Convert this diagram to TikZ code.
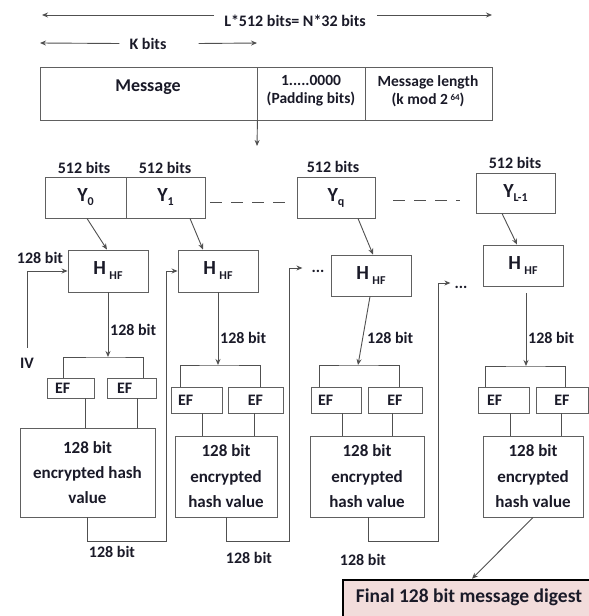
\documentclass[tikz,border=0pt]{standalone}
\usepackage{fontspec}
\setmainfont{Carlito}
\usetikzlibrary{arrows.meta,calc}
\definecolor{ln}{HTML}{505050}
\definecolor{bx}{HTML}{606060}
\definecolor{tx}{HTML}{1A1A28}
\definecolor{pinkfill}{HTML}{F2DCDB}
\tikzset{
  txt/.style={font=\bfseries\fontsize{16}{19}\selectfont, text=tx, inner sep=1pt},
  box/.style={draw=bx, line width=0.9pt, inner sep=0pt},
  efbox/.style={box, font=\bfseries\fontsize{16}{19}\selectfont, text=tx},
  conn/.style={draw=ln, line width=0.9pt},
  arr/.style={conn, -{Stealth[length=6pt,width=5pt]}},
  hashtxt/.style={box, font=\bfseries\fontsize{17}{25}\selectfont, text=tx, align=center},
  ytxt/.style={box, font=\bfseries\fontsize{20}{24}\selectfont, text=tx},
}
\newcommand{\subtxt}[2]{\raisebox{#1}{\fontsize{12}{12}\selectfont #2}}
\begin{document}
\begin{tikzpicture}[x=1pt,y=-1pt]
\clip (0,0) rectangle (589,616);
\fill[white] (0,0) rectangle (589,616);

% top dimension arrows
\node[txt] (Lt) at (295,21) {L*512 bits= N*32 bits};
\coordinate (tl) at (42,15);
\coordinate (tr) at (492,15);
\draw[arr] ([xshift=-9pt,yshift=6pt]Lt.west) -- (tl);
\draw[arr] ([xshift=10pt,yshift=6pt]Lt.east) -- (tr);
\node[txt] (Kt) at (148,43.5) {K bits};
\coordinate (kl) at (40,43);
\coordinate (kr) at (257,43);
\draw[arr] ([xshift=-9pt]Kt.west) -- (kl);
\draw[arr] ([xshift=31pt]Kt.east) -- (kr);

% message block
\node[box, minimum width=217pt, minimum height=53pt] (msg) at (148.5,93.5) {};
\node[box, minimum width=108pt, minimum height=53pt] (pad) at (311,93.5) {};
\node[box, minimum width=127pt, minimum height=53pt] (len) at (428.5,93.5) {};
\node[txt, font=\bfseries\fontsize{18}{21}\selectfont] (msgt) at (148,87) {Message};
\node[txt, font=\bfseries\fontsize{15.5}{18}\selectfont, align=center] (padt) at (311,91) {1.....0000\\(Padding bits)};
\node[txt, font=\bfseries\fontsize{15.5}{18}\selectfont, align=center] (lent) at (428,91) {Message length\\(k mod 2\,\raisebox{4pt}{\fontsize{9}{9}\selectfont 64})};
\coordinate (dn) at (257,146);
\draw[arr] (msg.south east) -- (dn);

% Y blocks
\node[ytxt, minimum width=81pt, minimum height=41pt] (y0) at (85.5,197.5) {Y\subtxt{-4pt}{0}};
\node[ytxt, minimum width=79pt, minimum height=41pt] (y1) at (165.5,197.5) {Y\subtxt{-4pt}{1}};
\node[ytxt, minimum width=78pt, minimum height=41pt] (yq) at (336,197.5) {Y\subtxt{-4pt}{q}};
\node[ytxt, minimum width=79pt, minimum height=40pt] (yl) at (515.5,193) {Y\subtxt{-4pt}{L-1}};
\node[txt] (b0) at (84,168) {512 bits};
\node[txt] (b1) at (165,168) {512 bits};
\node[txt] (bq) at (333,167) {512 bits};
\node[txt] (bl) at (515,163) {512 bits};
\draw[conn, dashed, dash pattern=on 12pt off 9pt] ([xshift=5pt,yshift=-4.5pt]y1.east) -- ([xshift=-10pt,yshift=-4.5pt]yq.west);
\draw[conn, dashed, dash pattern=on 12pt off 9pt] ([xshift=18pt,yshift=-2.5pt]yq.east) -- ([xshift=-16pt,yshift=-7pt]yl.west);

% hash function boxes
\node[ytxt, minimum width=80pt, minimum height=42pt] (h1) at (108,271) {H\,\subtxt{-5pt}{HF}};
\node[ytxt, minimum width=80pt, minimum height=42pt] (h2) at (218,271) {H\,\subtxt{-5pt}{HF}};
\node[ytxt, minimum width=80pt, minimum height=41pt] (h3) at (371,275.5) {H\,\subtxt{-5pt}{HF}};
\node[ytxt, minimum width=80pt, minimum height=41pt] (h4) at (523,265.5) {H\,\subtxt{-5pt}{HF}};
\draw[arr] ([xshift=1.5pt]y0.south) -- ([xshift=-1pt]h1.north);
\draw[arr] ([xshift=24.5pt]y1.south) -- ([xshift=-15pt]h2.north);
\draw[arr] ([xshift=22pt]yq.south) -- ([xshift=2pt]h3.north);
\draw[arr] ([xshift=-13.5pt]yl.south) -- ([xshift=-6pt]h4.north);

% IV input
\node[txt] (iv) at (27,363) {IV};
\node[txt] (ivb) at (40,258) {128 bit};
\draw[arr] ([yshift=9pt]iv.north) |- (h1.west);

% down arrows and brackets
\coordinate (br1) at (108,357);
\coordinate (br2) at (218,365);
\coordinate (br3) at (358,365);
\coordinate (br4) at (526,366);
\draw[arr] (h1.south) -- (br1);
\draw[arr] (h2.south) -- (br2);
\draw[arr] ([xshift=-1pt]h3.south) -- (br3);
\draw[arr] ([xshift=3pt,yshift=-7pt]h4.south) -- (br4);
\node[txt, anchor=west] (l1) at (109,330) {128 bit};
\node[txt, anchor=west] (l2) at (219,338) {128 bit};
\node[txt, anchor=west] (l3) at (366,338) {128 bit};
\node[txt, anchor=west] (l4) at (527,338) {128 bit};

% EF boxes
\node[efbox, minimum height=20pt, inner xsep=8pt, text width=31pt, align=left] (e1a) at (70.5,388) {EF};
\node[efbox, minimum height=20pt, inner xsep=10pt, text width=29pt, align=left] (e1b) at (131.5,388) {EF};
\node[efbox, minimum height=26pt, inner xsep=7pt, text width=37pt, align=left] (e2a) at (196.5,400) {EF};
\node[efbox, minimum height=26pt, minimum width=55pt] (e2b) at (255.5,400) {EF};
\node[efbox, minimum height=26pt, inner xsep=7pt, text width=36pt, align=left] (e3a) at (336,400) {EF};
\node[efbox, minimum height=26pt, minimum width=54pt] (e3b) at (395,400) {EF};
\node[efbox, minimum height=26pt, inner xsep=9pt, text width=33pt, align=left] (e4a) at (503.5,400) {EF};
\node[efbox, minimum height=26pt, minimum width=52pt] (e4b) at (562,400) {EF};
\draw[conn] ([xshift=-7.5pt]e1a.north) |- (br1) -| ([xshift=11.5pt]e1b.north);
\draw[conn] ([xshift=-16.5pt]e2a.north) |- (br2) -| ([xshift=4.5pt]e2b.north);
\draw[conn] ([xshift=-17pt]e3a.north) |- (br3) -| ([xshift=4pt]e3b.north);
\draw[conn] ([xshift=-18.5pt]e4a.north) |- (br4) -| ([xshift=3pt]e4b.north);

% hash value boxes
\node[hashtxt, minimum width=135pt, minimum height=89pt] (c1) at (87.5,472.5) {128 bit\\encrypted hash\\value};
\node[hashtxt, font=\bfseries\fontsize{17}{25.5}\selectfont, minimum width=102pt, minimum height=81pt] (c2) at (226,476.5) {128 bit\\encrypted\\hash value};
\node[hashtxt, font=\bfseries\fontsize{17}{25.5}\selectfont, minimum width=114pt, minimum height=81pt] (c3) at (367,476.5) {128 bit\\encrypted\\hash value};
\node[hashtxt, font=\bfseries\fontsize{17}{25.5}\selectfont, minimum width=100pt, minimum height=81pt] (c4) at (533,476.5) {128 bit\\encrypted\\hash value};
\draw[conn] ([xshift=14.5pt]e1a.south) -- ([xshift=14.5pt]e1a.south |- c1.north);
\draw[conn] ([xshift=5.5pt]e1b.south) -- ([xshift=5.5pt]e1b.south |- c1.north);
\draw[conn] ([xshift=5.5pt]e2a.south) -- ([xshift=5.5pt]e2a.south |- c2.north);
\draw[conn] ([xshift=-1.5pt]e2b.south) -- ([xshift=-1.5pt]e2b.south |- c2.north);
\draw[conn] ([xshift=6pt]e3a.south) -- ([xshift=6pt]e3a.south |- c3.north);
\draw[conn] ([xshift=-3pt]e3b.south) -- ([xshift=-3pt]e3b.south |- c3.north);
\draw[conn] ([xshift=6.5pt]e4a.south) -- ([xshift=6.5pt]e4a.south |- c4.north);
\draw[conn] ([xshift=-1pt]e4b.south) -- ([xshift=-1pt]e4b.south |- c4.north);

% chaining feedback
\node[txt, inner sep=0pt] (d1) at (318,271) {...};
\node[txt, inner sep=0pt] (d2) at (461,287) {...};
\coordinate (f1) at (166,541);
\coordinate (f2) at (289,541);
\coordinate (f3) at (438,541);
\draw[arr] ([xshift=-0.5pt]c1.south) |- (f1) |- (h2.west);
\draw[arr] (c2.south) |- (f2) |- ([xshift=-9pt,yshift=3pt]d1.west);
\draw[arr] ([xshift=1pt]c3.south) |- (f3) |- ([xshift=-4pt,yshift=4pt]d2.west);
\node[txt] (o1) at (112,552) {128 bit};
\node[txt] (o2) at (249,558) {128 bit};
\node[txt] (o3) at (363,560) {128 bit};

% final digest
\node[draw=black, line width=2.5pt, fill=pinkfill, minimum width=277pt, minimum height=60pt] (fin) at (481.5,610) {};
\node[txt, font=\bfseries\fontsize{19.5}{23}\selectfont] (fint) at (469,597.5) {Final 128 bit message digest};
\draw[arr] (c4.south) -- ([xshift=-9.5pt]fin.north);
\end{tikzpicture}
\end{document}
